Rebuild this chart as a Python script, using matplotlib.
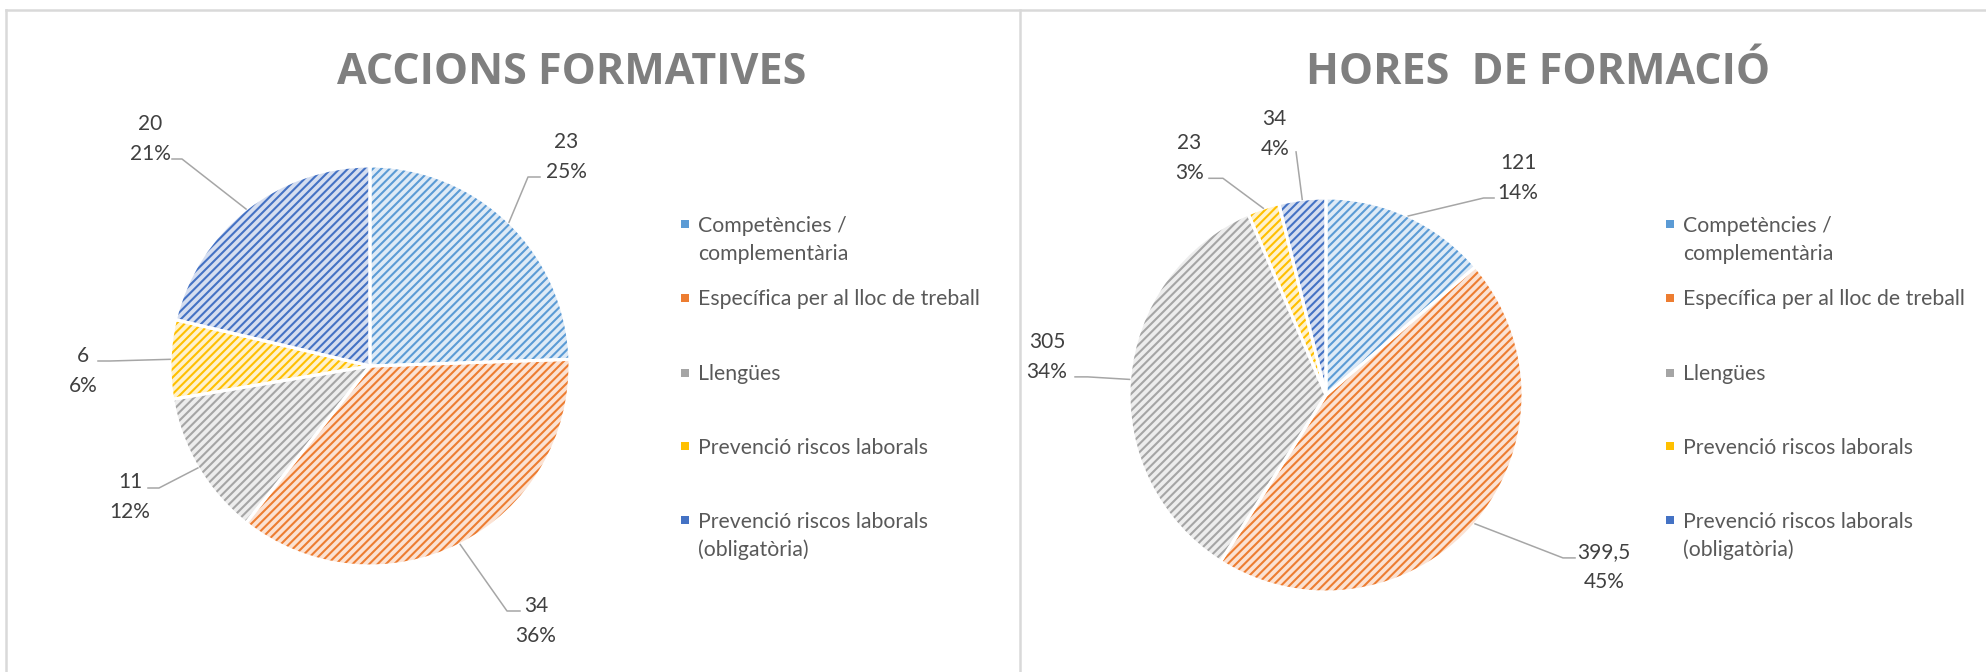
import numpy as np
import matplotlib
matplotlib.use("Agg")
import matplotlib.pyplot as plt
from matplotlib.patches import Rectangle

plt.rcParams['font.family'] = ['Lato', 'DejaVu Sans']
plt.rcParams['hatch.linewidth'] = 1.5

# dades
categories = ['Competències /\ncomplementària',
              'Específica per al lloc de treball',
              'Llengües',
              'Prevenció riscos laborals',
              'Prevenció riscos laborals\n(obligatòria)']

accions = [23, 34, 11, 6, 20]
accions_txt = ['23', '34', '11', '6', '20']
accions_pct = ['25%', '36%', '12%', '6%', '21%']

hores = [121, 399.5, 305, 23, 34]
hores_txt = ['121', '399,5', '305', '23', '34']
hores_pct = ['14%', '45%', '34%', '3%', '4%']

colors = ['#5B9BD5', '#ED7D31', '#A5A5A5', '#FFC000', '#4472C4']
light = ['#DEEAF6', '#FBE2D3', '#EDEDED', '#FFF2CC', '#D5DEF0']

# posicio de les etiquetes (unitats del radi)
acc_text = [(0.98, 1.05), (0.83, -1.265), (-1.2, -0.65), (-1.435, -0.02), (-1.1, 1.145)]
acc_elbow = [(0.79, 0.945), (0.685, -1.225), (-1.055, -0.61), (-1.30, 0.025), (-0.94, 1.035)]
acc_end = [(0.85, 0.945), (0.75, -1.225), (-1.11, -0.61), (-1.36, 0.025), (-0.99, 1.035)]

hor_text = [(0.975, 1.107), (1.41, -0.868), (-1.416, 0.203), (-0.695, 1.213), (-0.26, 1.335)]
hor_elbow = [(0.80, 1.0), (1.203, -0.827), (-1.21, 0.092), (-0.523, 1.10), (-0.152, 1.234)]
hor_end = [(0.853, 1.0), (1.264, -0.827), (-1.274, 0.092), (-0.594, 1.10), (-0.152, 1.234)]

W, H = 1986, 672
fig = plt.figure(figsize=(W / 100, H / 100), dpi=100)

# capa de fons en pixels
ov = fig.add_axes([0, 0, 1, 1])
ov.set_xlim(0, W)
ov.set_ylim(H, 0)
ov.axis('off')
bc = '#D9D9D9'
ov.plot([6, W], [10, 10], color=bc, lw=1.8)
ov.plot([6, 6], [10, H], color=bc, lw=1.8)
ov.plot([1020, 1020], [10, H], color=bc, lw=1.8)

ov.text(572, 84, 'ACCIONS FORMATIVES', ha='center', va='baseline',
        fontsize=31, fontweight='bold', color='#7F7F7F', family='Open Sans')
ov.text(1538, 84, 'HORES  DE FORMACIÓ', ha='center', va='baseline',
        fontsize=31, fontweight='bold', color='#7F7F7F', family='Open Sans')


def legend(x_mark, x_text):
    baselines = [231.5, 305, 380, 453.5, 527.5]
    for cat, col, yb in zip(categories, colors, baselines):
        ov.add_patch(Rectangle((x_mark - 4, yb - 11.5), 8, 8, facecolor=col,
                               edgecolor='none'))
        for i, line in enumerate(cat.split('\n')):
            ov.text(x_text, yb + i * 28.5, line, ha='left', va='baseline',
                    fontsize=15.3, color='#595959')


legend(685, 698)
legend(1670, 1683)


def pie(rect, r_px, values, vtxt, ptxt, tpos, elbows, ends):
    ax = fig.add_axes(rect)
    wedges, _ = ax.pie(values, colors=light, startangle=90, counterclock=False,
                       wedgeprops=dict(linewidth=0))
    for w, c in zip(wedges, colors):
        w.set_edgecolor(c)
        w.set_hatch('////')
        w.set_linewidth(0)
    ax.pie(values, startangle=90, counterclock=False,
           wedgeprops=dict(fill=False, edgecolor='white', linewidth=2.2))
    ax.set_xlim(-1, 1)
    ax.set_ylim(-1, 1)
    ax.set_aspect('equal')
    ax.axis('off')
    off = 15 / r_px
    cap = 7.5 / r_px
    for w, v, p, (tx, ty), (ex, ey), (nx, ny) in zip(wedges, vtxt, ptxt, tpos, elbows, ends):
        a = np.deg2rad((w.theta1 + w.theta2) / 2)
        ax.plot([np.cos(a), ex, nx], [np.sin(a), ey, ny], color='#A6A6A6',
                lw=1.1, clip_on=False)
        ax.text(tx, ty + off - cap, v, ha='center', va='baseline', fontsize=15,
                color='#404040', clip_on=False)
        ax.text(tx, ty - off - cap, p, ha='center', va='baseline', fontsize=15,
                color='#404040', clip_on=False)


pie([170 / W, 106 / H, 400 / W, 400 / H], 200, accions, accions_txt, accions_pct,
    acc_text, acc_elbow, acc_end)
pie([1129 / W, 80 / H, 394 / W, 394 / H], 197, hores, hores_txt, hores_pct,
    hor_text, hor_elbow, hor_end)

fig.savefig('out.png', dpi=100)
